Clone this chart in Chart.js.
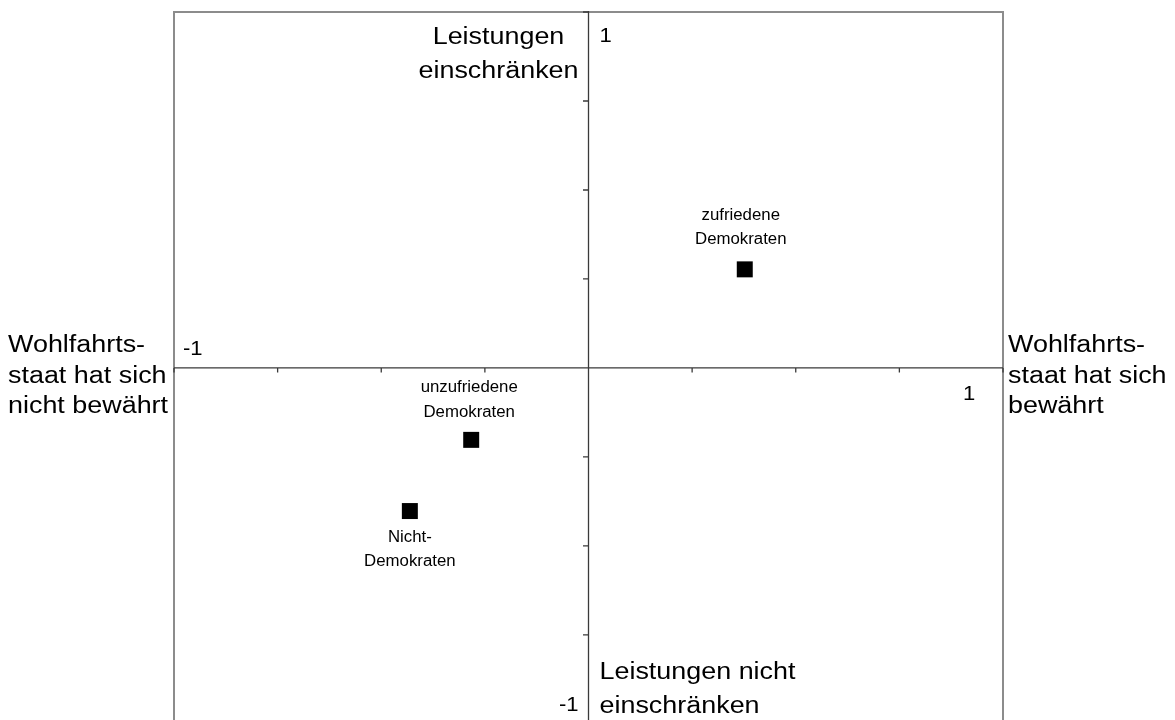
<!DOCTYPE html>
<html><head><meta charset="utf-8">
<script src="https://cdn.jsdelivr.net/npm/chart.js@4/dist/chart.umd.min.js"></script>
<style>html,body{margin:0;padding:0;background:#fff;overflow:hidden}</style>
</head><body>
<canvas id="c" width="1175" height="720"></canvas>
<script>
// ---- data ----
const groupNames = [['zufriedene', 'Demokraten'], ['unzufriedene', 'Demokraten'], ['Nicht-', 'Demokraten']];
const xValues = [0.377, -0.283, -0.431];
const yValues = [0.277, -0.202, -0.402];
const tickValues = [-1, -0.75, -0.5, -0.25, 0, 0.25, 0.5, 0.75, 1];
const axisEndLabels = ['-1', '1'];
const leftPoleLabel = ['Wohlfahrts-', 'staat hat sich', 'nicht bewährt'];
const rightPoleLabel = ['Wohlfahrts-', 'staat hat sich', 'bewährt'];
const topPoleLabel = ['Leistungen', 'einschränken'];
const bottomPoleLabel = ['Leistungen nicht', 'einschränken'];

// ---- layout / style (not data) ----
const FONT = '"Liberation Sans", Arial, sans-serif';
const BIG = 23, BIG_STRETCH = 1.17;
const SMALL = 16, SMALL_STRETCH = 1.05;
const pointLabelLayout = [
  { dx: -4, dy: [-49, -25] },
  { dx: -2, dy: [-48, -23] },
  { dx: 0, dy: [31, 55] }
];

function txt(ctx, s, x, y, align, size, stretch) {
  ctx.save();
  ctx.font = size + 'px ' + FONT;
  ctx.fillStyle = '#000';
  ctx.textBaseline = 'alphabetic';
  ctx.textAlign = align;
  ctx.translate(x, y);
  ctx.scale(stretch, 1);
  ctx.fillText(s, 0, 0);
  ctx.restore();
}

const mapPlugin = {
  id: 'mapPlugin',
  beforeDraw(chart) {
    const ctx = chart.ctx;
    ctx.save();
    ctx.fillStyle = '#fff';
    ctx.fillRect(0, 0, chart.width, chart.height);
    ctx.restore();
  },
  beforeDatasetsDraw(chart) {
    const { ctx, scales: { x, y } } = chart;
    const x0 = x.getPixelForValue(0), y0 = y.getPixelForValue(0);
    const xl = x.getPixelForValue(-1), xr = x.getPixelForValue(1);
    const yt = y.getPixelForValue(1), yb = y.getPixelForValue(y.min);
    ctx.save();
    // frame
    ctx.strokeStyle = '#8c8c8c';
    ctx.lineWidth = 2;
    ctx.beginPath();
    ctx.moveTo(xl, yb + 10); ctx.lineTo(xl, yt); ctx.lineTo(xr, yt); ctx.lineTo(xr, yb + 10);
    ctx.stroke();
    // axes
    ctx.strokeStyle = '#3a3a3a';
    ctx.lineWidth = 1.3;
    ctx.beginPath();
    ctx.moveTo(xl, y0); ctx.lineTo(xr, y0);
    ctx.moveTo(x0, yt - 1); ctx.lineTo(x0, yb + 10);
    // ticks
    tickValues.forEach(t => {
      const px = x.getPixelForValue(t);
      ctx.moveTo(px, y0); ctx.lineTo(px, y0 + 4.5);
      if (t >= y.min) {
        const py = y.getPixelForValue(t);
        ctx.moveTo(x0 - 5.5, py); ctx.lineTo(x0, py);
      }
    });
    ctx.stroke();
    ctx.restore();

    // end labels of axes
    txt(ctx, axisEndLabels[1], x0 + 11, yt + 30, 'left', 21, 1.05);
    txt(ctx, axisEndLabels[0], xl + 9, y0 - 13, 'left', 21, 1.05);
    txt(ctx, axisEndLabels[1], xr - 40, y0 + 32, 'left', 21, 1.05);
    txt(ctx, axisEndLabels[0], x0 - 10, yb - 9, 'right', 21, 1.05);

    // pole labels
    leftPoleLabel.forEach((s, i) => txt(ctx, s, 8, 352 + i * 30.5, 'left', BIG, BIG_STRETCH));
    rightPoleLabel.forEach((s, i) => txt(ctx, s, xr + 5, 352 + i * 30.5, 'left', BIG, BIG_STRETCH));
    topPoleLabel.forEach((s, i) => txt(ctx, s, x0 - 90, yt + 32 + i * 34, 'center', BIG, BIG_STRETCH));
    bottomPoleLabel.forEach((s, i) => txt(ctx, s, x0 + 11, yb - 41 + i * 34, 'left', BIG, BIG_STRETCH));
  },
  afterDatasetsDraw(chart) {
    const { ctx, scales: { x, y } } = chart;
    groupNames.forEach((lines, i) => {
      const px = x.getPixelForValue(xValues[i]);
      const py = y.getPixelForValue(yValues[i]);
      const L = pointLabelLayout[i];
      lines.forEach((s, j) => txt(ctx, s, px + L.dx, py + L.dy[j], 'center', SMALL, SMALL_STRETCH));
    });
  }
};

new Chart(document.getElementById('c'), {
  type: 'scatter',
  data: {
    datasets: [{
      data: xValues.map((v, i) => ({ x: v, y: yValues[i] })),
      pointStyle: 'rect',
      pointRadius: 11.3,
      pointHoverRadius: 11.3,
      backgroundColor: '#000',
      borderColor: '#000',
      borderWidth: 0
    }]
  },
  options: {
    responsive: false,
    animation: false,
    devicePixelRatio: 1,
    events: [],
    layout: { autoPadding: false, padding: { left: 174, right: 172, top: 12, bottom: 0 } },
    scales: {
      x: { type: 'linear', min: -1, max: 1, display: false },
      y: { type: 'linear', min: -0.989, max: 1, display: false }
    },
    plugins: { legend: { display: false }, tooltip: { enabled: false } }
  },
  plugins: [mapPlugin]
});
</script>
</body></html>
